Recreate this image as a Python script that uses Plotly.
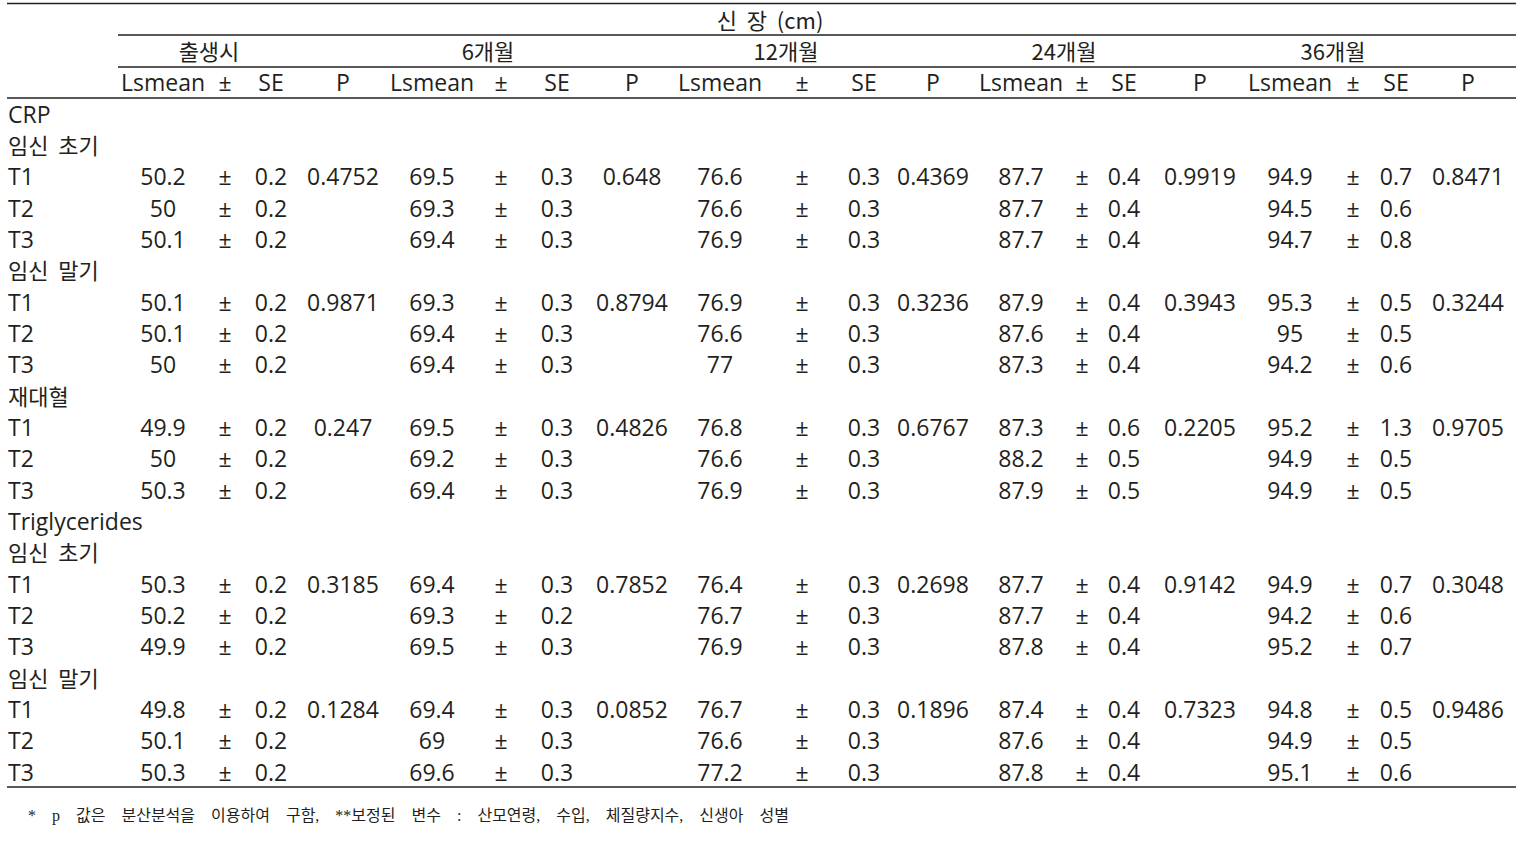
import plotly.graph_objects as go

# ---- table content ----
title_text = "신 장 (cm)"
time_points = ["출생시", "6개월", "12개월", "24개월", "36개월"]
sub_headers = ["Lsmean", "±", "SE", "P"]
row_labels = ["CRP", "임신 초기", "T1", "T2", "T3", "임신 말기", "T1", "T2", "T3",
              "재대혈", "T1", "T2", "T3", "Triglycerides", "임신 초기", "T1", "T2", "T3",
              "임신 말기", "T1", "T2", "T3"]

# one value per T row (15 rows), P one per block of T1..T3 (5 blocks)
ls_birth = [50.2, 50, 50.1, 50.1, 50.1, 50, 49.9, 50, 50.3, 50.3, 50.2, 49.9, 49.8, 50.1, 50.3]
se_birth = [0.2] * 15
p_birth = [0.4752, 0.9871, 0.247, 0.3185, 0.1284]

ls_6m = [69.5, 69.3, 69.4, 69.3, 69.4, 69.4, 69.5, 69.2, 69.4, 69.4, 69.3, 69.5, 69.4, 69, 69.6]
se_6m = [0.3, 0.3, 0.3, 0.3, 0.3, 0.3, 0.3, 0.3, 0.3, 0.3, 0.2, 0.3, 0.3, 0.3, 0.3]
p_6m = [0.648, 0.8794, 0.4826, 0.7852, 0.0852]

ls_12m = [76.6, 76.6, 76.9, 76.9, 76.6, 77, 76.8, 76.6, 76.9, 76.4, 76.7, 76.9, 76.7, 76.6, 77.2]
se_12m = [0.3] * 15
p_12m = [0.4369, 0.3236, 0.6767, 0.2698, 0.1896]

ls_24m = [87.7, 87.7, 87.7, 87.9, 87.6, 87.3, 87.3, 88.2, 87.9, 87.7, 87.7, 87.8, 87.4, 87.6, 87.8]
se_24m = [0.4, 0.4, 0.4, 0.4, 0.4, 0.4, 0.6, 0.5, 0.5, 0.4, 0.4, 0.4, 0.4, 0.4, 0.4]
p_24m = [0.9919, 0.3943, 0.2205, 0.9142, 0.7323]

ls_36m = [94.9, 94.5, 94.7, 95.3, 95, 94.2, 95.2, 94.9, 94.9, 94.9, 94.2, 95.2, 94.8, 94.9, 95.1]
se_36m = [0.7, 0.6, 0.8, 0.5, 0.5, 0.6, 1.3, 0.5, 0.5, 0.7, 0.6, 0.7, 0.5, 0.5, 0.6]
p_36m = [0.8471, 0.3244, 0.9705, 0.3048, 0.9486]

footnote = "* p 값은 분산분석을 이용하여 구함, **보정된 변수 : 산모연령, 수입, 체질량지수, 신생아 성별"

lsmeans = [ls_birth, ls_6m, ls_12m, ls_24m, ls_36m]
ses = [se_birth, se_6m, se_12m, se_24m, se_36m]
ps = [p_birth, p_6m, p_12m, p_24m, p_36m]

# ---- layout (pixel x units, row units on y) ----
FONT = "Open Sans, Noto Sans CJK KR"
KFONT = "Noto Sans CJK KR"
COLOR = "#231f20"
SIZE = 23
label_x = 8
col_x = [[163, 225, 271, 343], [432, 501, 557, 632], [720, 802, 864, 933],
         [1021, 1082, 1124, 1200], [1290, 1353, 1396, 1468]]
group_x = [209, 488, 786, 1064, 1333]
title_x = 770


def wide(s):
    # the source font has a wider word space
    return s.replace(" ", " \u00a0")


def is_korean(s):
    return any("\uac00" <= ch <= "\ud7a3" for ch in s)


data_rows = [i for i, lab in enumerate(row_labels) if lab in ("T1", "T2", "T3")]
p_rows = [i for i, lab in enumerate(row_labels) if lab == "T1"]

fig = go.Figure()


def add_text(xs, ys, texts, pos="middle center", size=SIZE, family=FONT):
    fig.add_trace(go.Scatter(
        x=xs, y=ys, text=texts, mode="text", textposition=pos,
        textfont=dict(family=family, size=size, color=COLOR),
        hoverinfo="skip", showlegend=False, cliponaxis=False))


# row labels (latin and korean labels drawn separately)
lat_idx = [i for i, s in enumerate(row_labels) if not is_korean(s)]
kor_idx = [i for i, s in enumerate(row_labels) if is_korean(s)]
add_text([label_x] * len(lat_idx), lat_idx, [row_labels[i] for i in lat_idx], "middle right")
add_text([label_x] * len(kor_idx), kor_idx, [wide(row_labels[i]) for i in kor_idx],
         "middle right", size=22, family=KFONT)

# headers
add_text([title_x], [-3], [wide(title_text)], size=22, family=KFONT)
add_text(group_x, [-2] * len(group_x), time_points, size=22, family=KFONT)
for k in range(len(time_points)):
    add_text(col_x[k], [-1] * 4, sub_headers)

# body
for k in range(len(time_points)):
    cx = col_x[k]
    n = len(data_rows)
    add_text([cx[0]] * n, data_rows, [f"{v:g}" for v in lsmeans[k]])
    add_text([cx[1]] * n, data_rows, ["±"] * n)
    add_text([cx[2]] * n, data_rows, [f"{v:g}" for v in ses[k]])
    add_text([cx[3]] * len(p_rows), p_rows, [f"{v:g}" for v in ps[k]])

# footnote
fig.add_annotation(x=26, y=22.31, xref="x", yref="y",
                   text=footnote.replace(" ", "\u3000"), showarrow=False,
                   xanchor="left", yanchor="middle",
                   font=dict(family="Liberation Serif, Noto Sans CJK KR", size=16, color=COLOR))

# rules
rules = [(7, 1516, -3.62), (118, 1516, -2.617), (118, 1516, -1.596),
         (7, 1516, -0.606), (7, 1516, 21.385)]
for x0, x1, y in rules:
    fig.add_shape(type="line", x0=x0, x1=x1, y0=y, y1=y, xref="x", yref="y",
                  line=dict(color=COLOR, width=1.5))

fig.update_layout(
    width=1530, height=843,
    margin=dict(l=0, r=0, t=0, b=0),
    paper_bgcolor="white", plot_bgcolor="white",
    xaxis=dict(range=[0, 1530], visible=False, fixedrange=True),
    yaxis=dict(range=[23.17, -3.734], visible=False, fixedrange=True),
)

fig.write_html("out.html", config={"displayModeBar": False},
               post_script="document.body.style.margin='0';")
